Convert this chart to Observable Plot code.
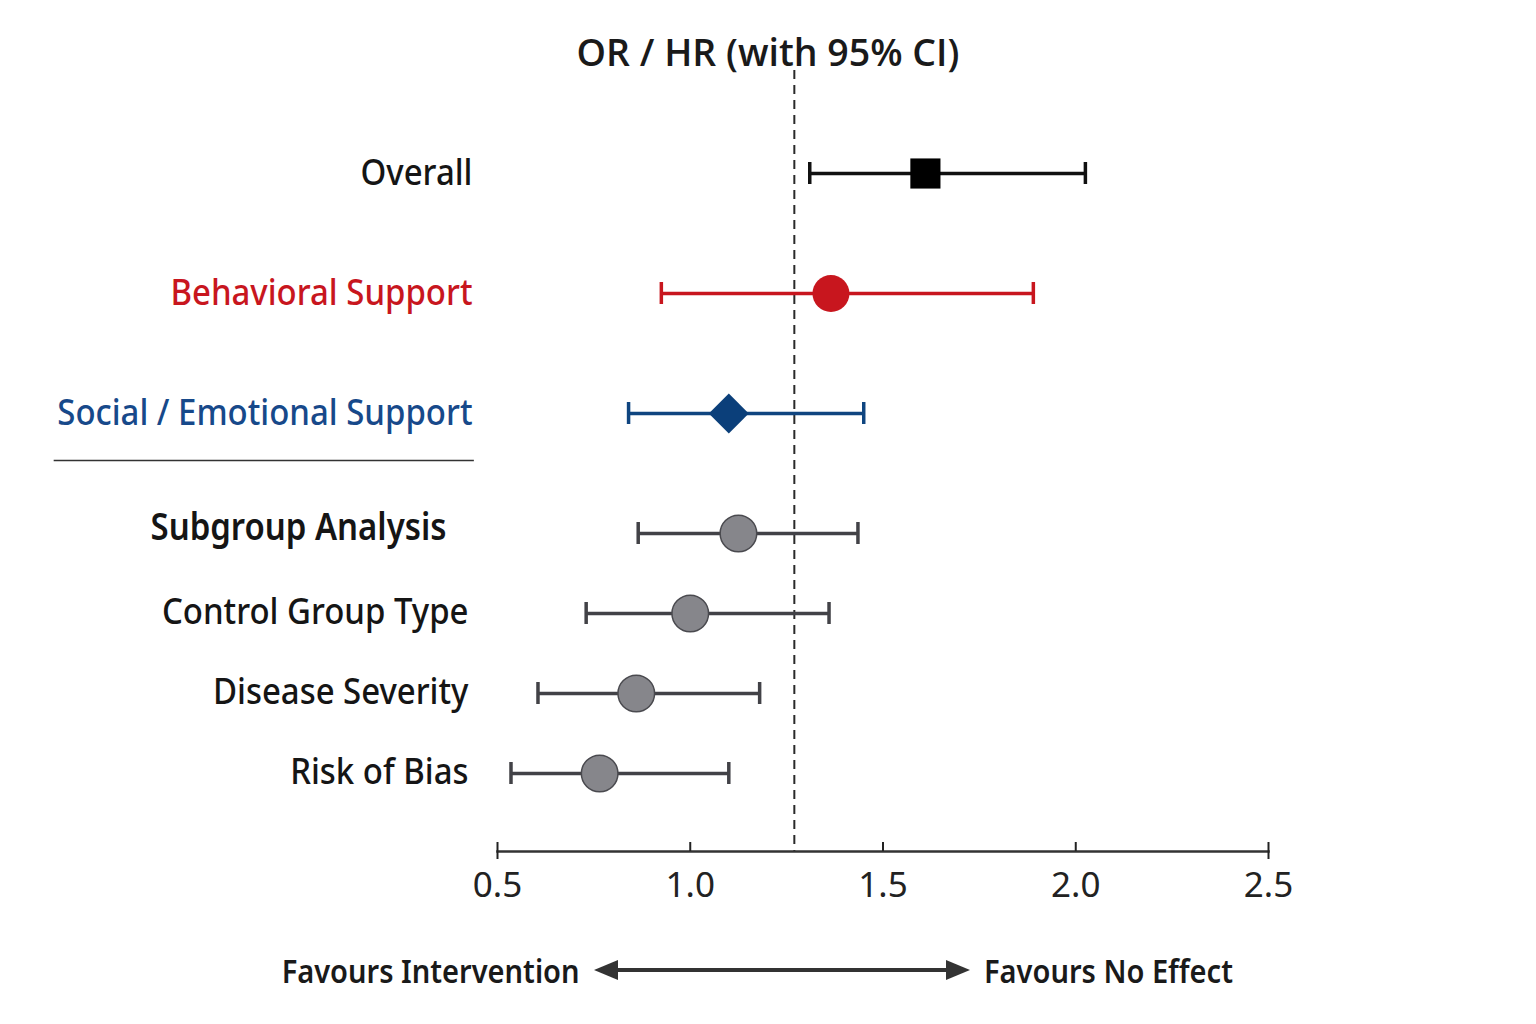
<!DOCTYPE html>
<html>
<head>
<meta charset="utf-8">
<script src="https://cdn.jsdelivr.net/npm/d3@7"></script>
<script src="https://cdn.jsdelivr.net/npm/@observablehq/plot@0.6"></script>
<style>
  html, body { margin: 0; padding: 0; background: #fff; }
  body { width: 1536px; height: 1024px; overflow: hidden; font-family: "Noto Sans", "Open Sans", sans-serif; }
  #title { height: 70px; box-sizing: border-box; padding-top: 32px; line-height: 40px; text-align: center;
           font-family: "Open Sans", sans-serif; font-weight: 600; font-size: 37.5px; color: #1a1a1a; }
  #legend { display: flex; align-items: center; margin-top: 29px; height: 40px;
            font-family: "Noto Sans", sans-serif; font-weight: 600; font-size: 33px; color: #1a1a1a; }
  #legend .l { width: 580px; text-align: right; }
  #legend .l span { display: inline-block; transform: scaleX(0.88); transform-origin: right center; }
  #legend .r span { display: inline-block; transform: scaleX(0.88); transform-origin: left center; }
  #legend svg { margin: 0 14px 0 14px; }
</style>
</head>
<body>
<div id="title">OR / HR (with 95% CI)</div>
<div id="chart"></div>
<div id="legend">
  <span class="l"><span>Favours Intervention</span></span>
  <svg width="376" height="24" viewBox="0 0 376 24">
    <line x1="20" y1="12" x2="356" y2="12" stroke="#333" stroke-width="4"/>
    <polygon points="0,12 24,2 24,22" fill="#333"/>
    <polygon points="376,12 352,2 352,22" fill="#333"/>
  </svg>
  <span class="r"><span>Favours No Effect</span></span>
</div>
<script>
// ---- data ----
const labels = ["Overall", "Behavioral Support", "Social / Emotional Support",
                "Subgroup Analysis", "Control Group Type", "Disease Severity", "Risk of Bias"];
const estimate = [1.61, 1.365, 1.10, 1.125, 1.00, 0.86, 0.765];
const lower    = [1.31, 0.925, 0.84, 0.865, 0.73, 0.605, 0.535];
const upper    = [2.025, 1.89, 1.45, 1.435, 1.36, 1.18, 1.10];
const groups   = ["overall", "behavioral", "social", "subgroup", "subgroup", "subgroup", "subgroup"];
const nullLine = 1.27;
const xTicks   = [0.5, 1.0, 1.5, 2.0, 2.5];
const xEnds    = [0.5, 2.5];

// ---- styles ----
const lineColor  = {overall: "#111111", behavioral: "#c8161e", social: "#0f4580", subgroup: "#424247"};
const labelColor = {overall: "#151515", behavioral: "#c8161e", social: "#17498a", subgroup: "#151515"};
const gaps = [0, 2, 2, 2, 1, 1, 1]; // spacer slots before each row

const rows = labels.map((label, i) => ({label, est: estimate[i], lo: lower[i], hi: upper[i], group: groups[i]}));
const domain = [];
labels.forEach((l, i) => { for (let k = 0; k < gaps[i]; k++) domain.push(`gap${i}-${k}`); domain.push(l); });

const font = "'Noto Sans', 'Open Sans', sans-serif";
const sub = g => rows.filter(d => d.group === g);

const plot = Plot.plot({
  width: 1536,
  height: 851,
  marginLeft: 497,
  marginRight: 268,
  marginTop: 0,
  marginBottom: 70,
  style: {fontFamily: font, overflow: "visible", background: "#fff"},
  x: {domain: [0.5, 2.5]},
  y: {type: "band", domain, padding: 0, insetTop: 78, insetBottom: 54, axis: null},
  marks: [
    Plot.ruleX([nullLine], {stroke: "#2a2a2a", strokeWidth: 2, strokeDasharray: "9,6"}),
    Plot.frame({anchor: "bottom", stroke: "#333", strokeWidth: 2.5}),
    Plot.axisX({ticks: xTicks, tickFormat: d3.format(".1f"), tickSize: 9, dy: -9, tickPadding: 21,
                fontSize: 35, color: "#222", strokeWidth: 2}),
    Plot.axisX({ticks: xEnds, tickFormat: () => "", tickSize: 8, color: "#222", strokeWidth: 2}),
    Plot.ruleY([domain[domain.indexOf(labels[3]) - 2]], {x1: -0.65, x2: 0.44, dy: 7, stroke: "#333", strokeWidth: 1.5}),
    Plot.ruleY(rows, {y: "label", x1: "lo", x2: "hi", stroke: d => lineColor[d.group], strokeWidth: 3.5}),
    Plot.tickX(rows, {x: "lo", y: "label", stroke: d => lineColor[d.group], strokeWidth: 3.5, insetTop: 9, insetBottom: 9}),
    Plot.tickX(rows, {x: "hi", y: "label", stroke: d => lineColor[d.group], strokeWidth: 3.5, insetTop: 9, insetBottom: 9}),
    Plot.dot(sub("overall"), {x: "est", y: "label", symbol: "square", r: 17, fill: "#000"}),
    Plot.dot(sub("behavioral"), {x: "est", y: "label", symbol: "circle", r: 18.5, fill: "#c8161e"}),
    Plot.dot(sub("social"), {x: "est", y: "label", symbol: "diamond2", r: 18, fill: "#0b3f7a"}),
    Plot.dot(sub("subgroup"), {x: "est", y: "label", symbol: "circle", r: 18.3, fill: "#86868b", stroke: "#4a4a4f", strokeWidth: 1.5}),
    Plot.text(rows.filter(d => d.group !== "subgroup"), {y: "label", text: "label", frameAnchor: "left", textAnchor: "end", dx: -25,
      fill: d => labelColor[d.group], fontSize: 37, fontWeight: 500}),
    Plot.text(rows.filter(d => d.label === labels[3]), {y: "label", text: "label", frameAnchor: "left", textAnchor: "end", dx: -51, dy: -5,
      fill: d => labelColor[d.group], fontSize: 37, fontWeight: 600}),
    Plot.text(rows.filter(d => d.group === "subgroup" && d.label !== labels[3]), {y: "label", text: "label", frameAnchor: "left", textAnchor: "end", dx: -29, dy: -1,
      fill: d => labelColor[d.group], fontSize: 37, fontWeight: 500})
  ]
});
// condensed look for row labels
plot.querySelectorAll('g[aria-label="text"] text').forEach(t => {
  t.setAttribute("transform", (t.getAttribute("transform") || "") + " scale(0.89,1)");
});
document.getElementById("chart").appendChild(plot);
</script>
</body>
</html>
